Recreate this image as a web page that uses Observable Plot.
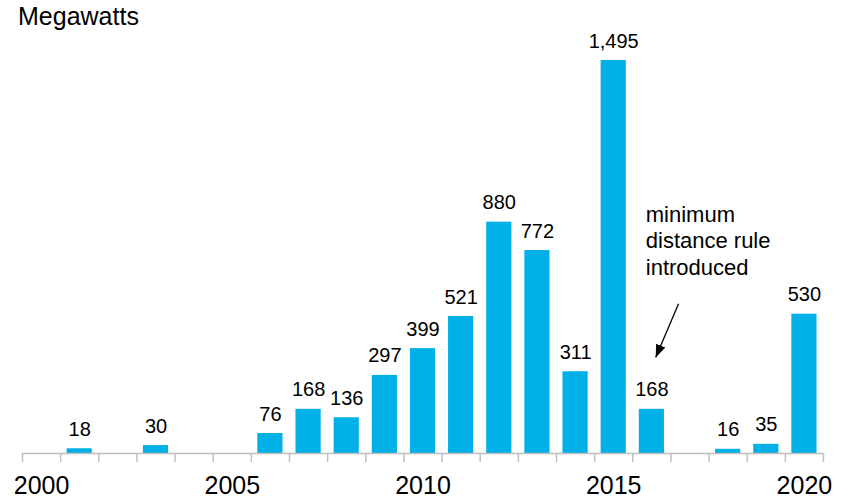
<!DOCTYPE html>
<html>
<head>
<meta charset="utf-8">
<script src="https://cdn.jsdelivr.net/npm/d3@7"></script>
<script src="https://cdn.jsdelivr.net/npm/@observablehq/plot@0.6"></script>
<style>
  html, body { margin: 0; padding: 0; background: #fff; }
  #wrap { position: relative; width: 850px; height: 499px; font-family: "Liberation Sans", Arial, sans-serif; }
  #title { position: absolute; left: 18px; top: 4px; font-size: 25px; line-height: 25px; color: #000; }
</style>
</head>
<body>
<div id="wrap">
  <div id="title">Megawatts</div>
</div>
<script>
// Data
const years = [2000, 2001, 2002, 2003, 2004, 2005, 2006, 2007, 2008, 2009, 2010,
               2011, 2012, 2013, 2014, 2015, 2016, 2017, 2018, 2019, 2020];
const megawatts = [0, 18, 0, 30, 0, 0, 76, 168, 136, 297, 399,
                   521, 880, 772, 311, 1495, 168, 0, 16, 35, 530];
const tickLabels = [2000, 2005, 2010, 2015, 2020];
const annotationText = ["minimum\ndistance rule\nintroduced"];
const annotationX = [2015.84];
const annotationY = [955];
const arrowFrom = {year: 2016.70, value: 570};
const arrowTo = {year: 2016.10, value: 365};

const data = years.map((y, i) => ({year: y, value: megawatts[i]})).filter(d => d.value > 0);
const boundaries = years.map(y => y - 0.5).concat([years[years.length - 1] + 0.5]);

const barColor = "#00b0e6";
const axisGrey = "#bfbfbf";

function filledArrow(color, context) {
  const doc = (context && context.document) || document;
  const m = d3.select(doc.createElementNS("http://www.w3.org/2000/svg", "marker"))
    .attr("viewBox", "-13 -6 13 12")
    .attr("markerWidth", 13)
    .attr("markerHeight", 12)
    .attr("markerUnits", "userSpaceOnUse")
    .attr("refX", 0)
    .attr("refY", 0)
    .attr("orient", "auto");
  m.append("path").attr("d", "M-13,-5L0,0L-13,5Z").attr("fill", "#000").attr("stroke", "none");
  return m.node();
}

const chart = Plot.plot({
  width: 850,
  height: 499,
  marginTop: 60,
  marginBottom: 46,
  marginLeft: 22,
  marginRight: 27,
  style: {fontFamily: "'Liberation Sans', Arial, sans-serif", background: "transparent", overflow: "visible"},
  x: {type: "linear", domain: [1999.5, 2020.5], axis: null},
  y: {domain: [0, 1495], axis: null},
  marks: [
    Plot.rectY(data, {x1: d => d.year - 0.33, x2: d => d.year + 0.33, y: "value", fill: barColor}),
    Plot.ruleY([0], {stroke: axisGrey, strokeWidth: 1.5}),
    Plot.axisX({ticks: boundaries, tickFormat: () => "", tickSize: 9, stroke: axisGrey, strokeWidth: 1.5, label: null}),
    Plot.axisX({ticks: tickLabels, tickFormat: d => String(d), tickSize: 0, tickPadding: 23, fontSize: 25, fill: "#000", label: null}),
    Plot.text(data, {x: "year", y: "value", text: d => d3.format(",")(d.value), lineAnchor: "bottom", dy: -13, fontSize: 20, fill: "#000"}),
    Plot.text(annotationText, {x: annotationX, y: annotationY, text: d => d, textAnchor: "start", lineAnchor: "top", lineHeight: 1.22, fontSize: 22, fill: "#000"}),
    Plot.link([arrowFrom], {x1: "year", y1: "value", x2: () => arrowTo.year, y2: () => arrowTo.value, stroke: "#000", strokeWidth: 1.3, markerEnd: filledArrow})
  ]
});
document.getElementById("wrap").appendChild(chart);
</script>
</body>
</html>
